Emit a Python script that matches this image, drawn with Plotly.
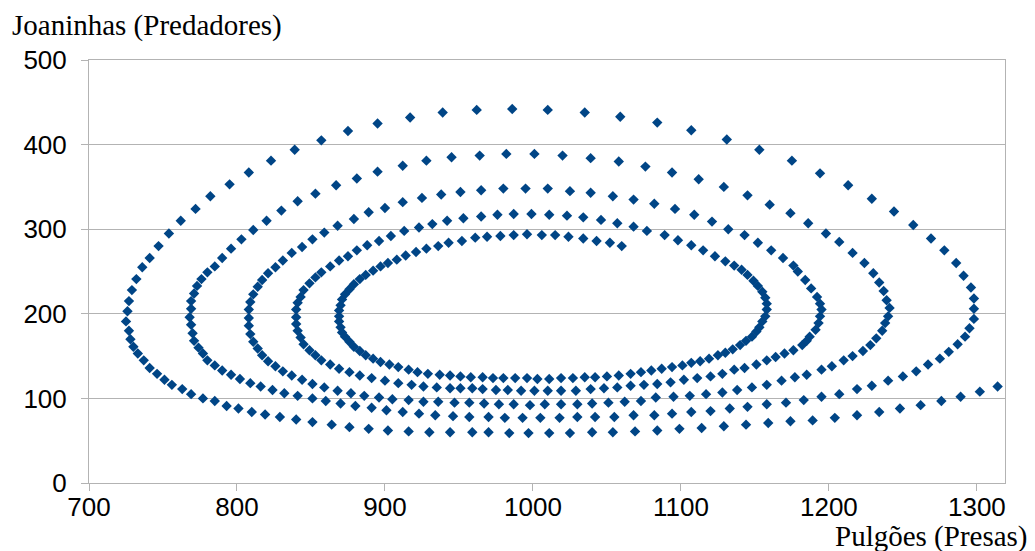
import plotly.graph_objects as go

# Prey (Pulgões) and predator (Joaninhas) values, one list per revolution
rev1_prey = [1060,1052,1043,1034,1024,1015,1006,996,987,978,969,961,952,943,936,928,921,914,908,902,897,
             892,887,883,879,876,873,871,870,869,869,869,870,871,873,876,879,883,887,892,897,903,909,916,922,929,937,944,951,
             958,966,973,980,988,996,1003,1011,1019,1027,1035,1042,1050,1058,1066,1073,1080,
             1087,1094,1101,1107,1113,1119,1125,1130,1135,1140,1144,1148,1151,1153,1155,1157,1158,1158,1157,1155,1152,1149,1145,1141,1136,1130,1123,1115,1107,1098,1089,1077]
rev1_pred = [280,284,286,289,291,293,293,294,293,292,291,290,286,284,280,277,273,269,264,260,256,
             251,246,241,235,229,223,217,210,204,197,191,184,178,173,167,161,156,151,147,143,140,137,134,131,129,128,127,126,
             125,125,124,124,124,124,123,123,124,124,125,125,126,127,129,131,133,
             135,137,139,142,144,147,151,154,158,163,168,173,179,184,191,197,205,212,219,226,233,239,246,252,257,262,268,275,281,287,293,298]

rev2_prey = [1068,1057,1046,1034,1023,1011,999,987,976,965,953,942,932,923,913,904,896,888,881,875,869,863,
             857,853,849,845,843,841,840,840,840,841,843,845,849,853,857,863,869,876,883,891,900,909,918,926,935,944,951,
             959,966,975,983,992,1001,1010,1019,1029,1039,1048,1057,1066,1075,
             1084,1093,1102,1111,1120,1128,1136,1143,1151,1158,1164,1170,1176,1182,1185,1187,1191,1193,1194,1195,1194,1192,1188,1184,1179]
rev2_pred = [303,307,311,314,316,317,318,318,317,315,313,310,306,302,298,292,286,281,275,268,263,256,
             249,243,236,228,220,213,205,196,188,180,172,164,157,151,145,140,135,131,127,124,121,118,116,114,113,112,112,
             112,111,110,110,109,109,109,109,109,111,112,113,115,116,
             117,119,122,124,126,129,134,136,140,145,149,153,157,163,168,173,181,189,197,205,212,220,230,240,250]

rev3_prey = [1176,1169,1161,1152,1143,1132,1121,1109,1096,1082,1068,1054,1039,1025,1010,995,980,965,951,938,925,912,900,889,879,868,859,851,844,837,831,826,
             821,817,814,811,809,808,808,808,809,811,814,817,821,826,831,837,844,851,859,868,877,886,896,905,916,926,936,947,
             957,967,977,987,998,1008,1019,1030,1040,1051,1062,1073,
             1083,1095,1106,1117,1128,1138,1148,1158,1168,1177,1185,1195,1202,1210,1216,1223,1228,1232,1236,1238,1240,1241,1239,1237,1234,1230]
rev3_pred = [257,266,275,284,293,300,309,317,324,330,335,339,343,345,348,348,348,346,344,341,337,332,325,320,312,304,296,288,279,272,263,255,
             248,240,232,223,214,205,195,186,176,167,159,151,144,138,132,127,122,117,113,109,106,103,101,99,98,96,96,95,
             95,94,93,93,92,93,93,93,94,95,96,97,
             101,102,103,105,107,110,113,116,121,125,128,134,138,145,150,156,163,171,180,189,197,207,216,227,237,248]

rev4_prey = [1224,1216,1207,1198,1186,1174,1160,1145,1129,1112,1094,1076,1058,1039,1020,1001,982,964,945,928,912,895,881,867,853,841,830,820,811,803,796,790,785,
             780,776,773,771,769,769,768,769,770,771,774,777,780,785,790,796,802,809,816,824,832,841,851,860,870,880,891,901,912,923,934,946,
             957,970,981,993,1005,1018,1030,1042,1055,1068,
             1082,1094,1107,1120,1133,1145,1158,1171,1183,1195,1207,1219,1229,1240,1250,1259,1267,1275,1281,1287,1292,1295,1298,1298,1298,1296,1291]
rev4_pred = [260,272,285,295,307,319,329,340,350,359,367,374,380,384,387,389,389,387,385,381,375,368,360,352,342,333,322,310,299,288,277,266,256,
             249,241,233,224,215,206,196,187,177,168,160,153,145,139,133,128,123,118,114,110,106,103,100,97,94,91,89,86,84,82,80,79,
             78,78,77,77,77,77,78,78,78,80,
             80,82,84,85,88,90,93,95,98,102,105,111,115,121,126,132,140,147,155,164,173,183,194,206,218,231,245]

rev5_prey = [1286,1278,1269,1257,1244,1229,1213,1194,1175,1153,1131,1107,1084,1059,1035,1010,986,962,939,917,895,875,857,839,823,808,795,782,772,762,754,747,741,736,
             732,729,727,726,725,727,728,730,733,737,741,746,751,756,763,769,777,785,793,801,810,819,829,840,851,864,876,889,902,916,930,944,
             959,970,984,997,1011,1025,1040,1054,1069,1084,1099,1114,1129,1144,1159,1174,1189,1204,1219,1234,1248,1262,1276,1289,1302,1314]
rev5_pred = [260,275,289,305,321,336,352,366,381,394,406,417,426,433,438,441,442,441,438,432,425,416,405,394,381,367,353,339,324,310,295,280,266,255,
             241,228,215,203,191,180,170,161,153,145,136,129,122,116,111,105,100,97,91,88,84,81,78,75,72,69,66,64,62,61,60,60,
             60,60,59,59,59,59,60,60,61,62,64,65,67,69,71,73,74,77,80,84,88,92,97,102,108,114]

x_ticks = [700, 800, 900, 1000, 1100, 1200, 1300]
y_ticks = [0, 100, 200, 300, 400, 500]
x_title = "Pulgões (Presas)"
y_title = "Joaninhas (Predadores)"

prey = []
pred = []
for a, b in [(rev1_prey, rev1_pred), (rev2_prey, rev2_pred), (rev3_prey, rev3_pred),
             (rev4_prey, rev4_pred), (rev5_prey, rev5_pred)]:
    assert len(a) == len(b), (len(a), len(b))
    prey += a
    pred += b

fig = go.Figure()
fig.add_trace(go.Scatter(
    x=prey, y=pred, mode="markers",
    marker=dict(symbol="diamond", size=8, color="#004586", line=dict(width=0)),
    showlegend=False, hoverinfo="x+y"))

axis_common = dict(
    showline=True, linecolor="#b3b3b3", linewidth=1, mirror=True,
    ticks="outside", ticklen=7, tickcolor="#b3b3b3",
    tickfont=dict(family="Liberation Sans, Arial, sans-serif", size=26, color="#000000"),
    zeroline=False,
)
fig.update_xaxes(range=[700, 1319], tickvals=x_ticks, showgrid=False,
                 ticklabelstandoff=-6, **axis_common)
fig.update_yaxes(range=[0, 500], tickvals=y_ticks, showgrid=True, gridcolor="#b3b3b3",
                 gridwidth=1, ticklabelstandoff=9, **axis_common)

title_font = dict(family="Liberation Serif, Times New Roman, serif", size=29, color="#000000")
fig.add_annotation(text=y_title, xref="paper", yref="paper", x=-0.0862, y=1.081,
                   xanchor="left", yanchor="middle", showarrow=False, font=title_font)
fig.add_annotation(text=x_title, xref="paper", yref="paper", x=1.0273, y=-0.127,
                   xanchor="right", yanchor="middle", showarrow=False, font=title_font)

# page body has an 8px margin, so the figure is offset to land the plot area where the reference has it
fig.update_layout(
    width=1027, height=543, autosize=False,
    margin=dict(l=81, r=30, t=52, b=68),
    paper_bgcolor="white", plot_bgcolor="white",
)

fig.write_html("out.html")
